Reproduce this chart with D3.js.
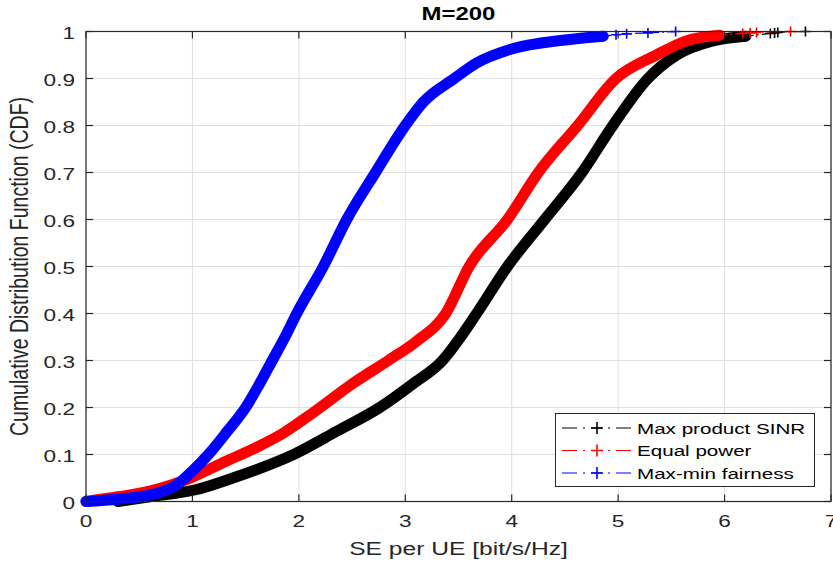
<!DOCTYPE html>
<html>
<head>
<meta charset="utf-8">
<script src="https://cdn.jsdelivr.net/npm/d3@7"></script>
<style>
body{margin:0;background:#fff;}
svg{display:block;font-family:"Liberation Sans",Arial,sans-serif;}
</style>
</head>
<body>
<svg id="chart" width="833" height="561"></svg>
<script>
// tick values / labels
var xTicks=[0,1,2,3,4,5,6,7];
var yTicks=[0,0.1,0.2,0.3,0.4,0.5,0.6,0.7,0.8,0.9,1];
var yTickLabels=["0","0.1","0.2","0.3","0.4","0.5","0.6","0.7","0.8","0.9","1"];
var seriesNames=["Max product SINR","Equal power","Max-min fairness"];
var seriesColors=["#000000","#ff0000","#0000ff"];

// Max product SINR
var maxProdSE =[0.3,0.6,1.03,1.38,1.95,2.36,2.76,3.07,3.35,3.52,3.67,3.96,4.31,4.66,4.95,5.28,5.55,5.89,6.2];
var maxProdCDF=[0,0.01,0.025,0.05,0.1,0.15,0.2,0.25,0.3,0.35,0.4,0.5,0.6,0.7,0.8,0.9,0.95,0.98,0.99];
var maxProdTailSE =[6.2,6.43,6.47,6.5,6.76];
var maxProdTailCDF=[0.99,0.996,0.997,0.998,1];
// Equal power
var equalSE =[0,0.3,0.6,0.8,1.0,1.31,1.6,1.85,2.14,2.5,2.84,3.1,3.38,3.6,3.96,4.25,4.62,4.98,5.36,5.64,5.95];
var equalCDF=[0,0.01,0.022,0.035,0.052,0.085,0.115,0.145,0.19,0.25,0.3,0.34,0.4,0.5,0.6,0.7,0.8,0.9,0.95,0.98,0.992];
var equalTailSE =[5.95,6.17,6.24,6.3,6.62];
var equalTailCDF=[0.992,0.996,0.997,0.998,1];
// Max-min fairness
var maxminSE =[0,0.3,0.5,0.7,0.85,1.0,1.15,1.33,1.5,1.63,1.75,1.87,1.98,2.23,2.45,2.72,3.0,3.17,3.46,3.67,4.0,4.5,4.86];
var maxminCDF=[0,0.005,0.01,0.02,0.035,0.065,0.1,0.15,0.2,0.25,0.3,0.35,0.4,0.5,0.6,0.7,0.8,0.85,0.9,0.933,0.963,0.982,0.99];
var maxminTailSE =[4.86,4.98,5.08,5.28,5.54];
var maxminTailCDF=[0.99,0.993,0.995,0.997,1];

var bodySE=[maxProdSE,equalSE,maxminSE];
var bodyCDF=[maxProdCDF,equalCDF,maxminCDF];
var tailSE=[maxProdTailSE,equalTailSE,maxminTailSE];
var tailCDF=[maxProdTailCDF,equalTailCDF,maxminTailCDF];

var padL=86,padR=831,padT=31.5,padB=501.5,sx=1.33,ink="#262626";
var x=d3.scaleLinear().domain([0,7]).range([padL,padR]),
    y=d3.scaleLinear().domain([0,1]).range([padB,padT]);
var svg=d3.select("#chart");

// grid
svg.append("g").selectAll("line.gx")
   .data(xTicks).enter().append("line")
   .attr("x1",function(d){return x(d);}).attr("x2",function(d){return x(d);})
   .attr("y1",padT).attr("y2",padB)
   .attr("stroke","#dfdfdf").attr("stroke-width",1);
svg.append("g").selectAll("line.gy")
   .data(yTicks).enter().append("line")
   .attr("y1",function(d){return y(d);}).attr("y2",function(d){return y(d);})
   .attr("x1",padL).attr("x2",padR)
   .attr("stroke","#dfdfdf").attr("stroke-width",1);

// curves
var line=d3.line().x(function(d){return x(d[0]);}).y(function(d){return y(d[1]);}).curve(d3.curveMonotoneX);
function plus(g,pts,col){
  g.selectAll("path.mk").data(pts).enter().append("path")
   .attr("d",function(d){var cx=x(d[0]),cy=y(d[1]);
       return "M"+(cx-5)+","+cy+"H"+(cx+5)+"M"+cx+","+(cy-5)+"V"+(cy+5);})
   .attr("stroke",col).attr("stroke-width",1.6).attr("fill","none");
}
for(var i=0;i<3;i++){
  var body=d3.zip(bodySE[i],bodyCDF[i]),
      tail=d3.zip(tailSE[i],tailCDF[i]);
  var g=svg.append("g");
  g.append("path").attr("d",line(tail))
   .attr("fill","none").attr("stroke",seriesColors[i]).attr("stroke-width",1.2)
   .attr("stroke-dasharray","8,3,2,3");
  g.append("path").attr("d",line(body))
   .attr("fill","none").attr("stroke",seriesColors[i]).attr("stroke-width",11)
   .attr("stroke-linejoin","round").attr("stroke-linecap","round");
  plus(g,body.concat(tail),seriesColors[i]);
}

// axes box + inward ticks
svg.append("rect").attr("x",padL).attr("y",padT).attr("width",padR-padL).attr("height",padB-padT)
   .attr("fill","none").attr("stroke",ink).attr("stroke-width",1.2);
var tk=svg.append("g").attr("stroke",ink).attr("stroke-width",1.2);
xTicks.forEach(function(d){
  tk.append("line").attr("x1",x(d)).attr("x2",x(d)).attr("y1",padB).attr("y2",padB-7);
  tk.append("line").attr("x1",x(d)).attr("x2",x(d)).attr("y1",padT).attr("y2",padT+7);
});
yTicks.forEach(function(d){
  tk.append("line").attr("y1",y(d)).attr("y2",y(d)).attr("x1",padL).attr("x2",padL+7);
  tk.append("line").attr("y1",y(d)).attr("y2",y(d)).attr("x1",padR).attr("x2",padR-7);
});

// tick labels (figure is stretched horizontally, so text is too)
svg.append("g").selectAll("text")
   .data(xTicks).enter().append("text")
   .attr("transform",function(d){return "translate("+x(d)+",527) scale("+sx+",1)";})
   .attr("text-anchor","middle").attr("font-size",17).attr("fill",ink)
   .text(function(d){return d;});
svg.append("g").selectAll("text")
   .data(yTicks).enter().append("text")
   .attr("transform",function(d){return "translate(75,"+(y(d)+7)+") scale("+sx+",1)";})
   .attr("text-anchor","end").attr("font-size",17).attr("fill",ink)
   .text(function(d,i){return yTickLabels[i];});

// title + axis labels
svg.append("text").attr("transform","translate("+((padL+padR)/2)+",20) scale("+sx+",1)")
   .attr("text-anchor","middle").attr("font-size",18).attr("font-weight","bold").attr("fill","#000")
   .text("M=200");
svg.append("text").attr("transform","translate("+((padL+padR)/2)+",555) scale("+sx+",1)")
   .attr("text-anchor","middle").attr("font-size",18.5).attr("fill",ink)
   .text("SE per UE [bit/s/Hz]");
svg.append("text").attr("transform","translate(28,"+((padT+padB)/2)+") scale("+sx+",1) rotate(-90)")
   .attr("text-anchor","middle").attr("font-size",19.5).attr("fill",ink)
   .text("Cumulative Distribution Function (CDF)");

// legend
var lg=svg.append("g");
lg.append("rect").attr("x",555.5).attr("y",413.5).attr("width",259).attr("height",73)
  .attr("fill","#fff").attr("stroke",ink).attr("stroke-width",1);
var rows=lg.selectAll("g.row").data(seriesNames).enter().append("g")
  .attr("transform",function(d,i){return "translate(0,"+(428+i*22.5)+")";});
rows.append("line").attr("x1",562).attr("x2",631).attr("y1",0).attr("y2",0)
  .attr("stroke",function(d,i){return seriesColors[i];}).attr("stroke-width",1)
  .attr("stroke-dasharray","15,6,2,6,11,6,2,6,15");
rows.append("path").attr("d","M591,0H603M597,-6V6")
  .attr("stroke",function(d,i){return seriesColors[i];}).attr("stroke-width",1.6);
rows.append("text").attr("transform","translate(637,5.5) scale("+sx+",1)")
  .attr("font-size",15.5).attr("fill","#000")
  .text(function(d){return d;});
</script>
</body>
</html>
